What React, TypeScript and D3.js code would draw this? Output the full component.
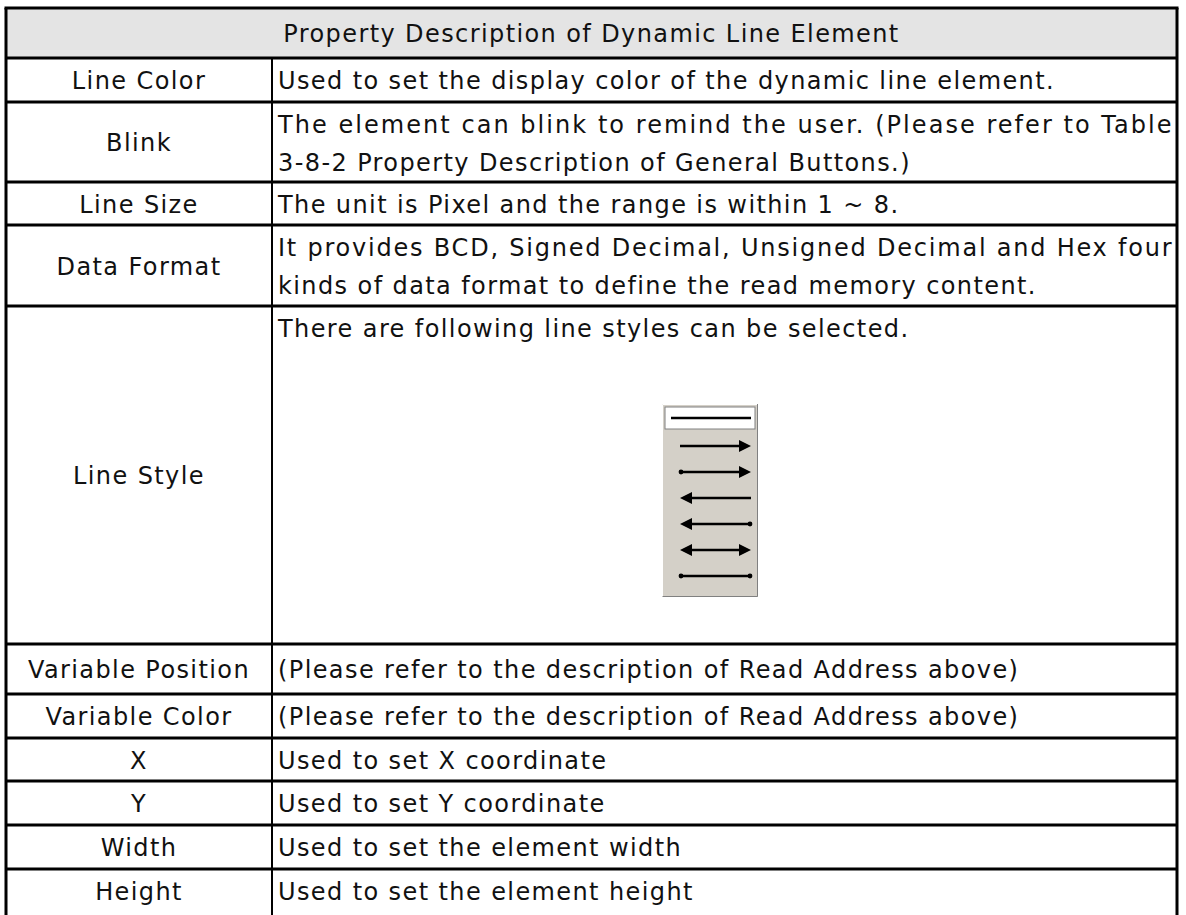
import React, { useEffect, useRef } from 'react';
import * as d3 from 'd3';

// table content
const title = 'Property Description of Dynamic Line Element';
const propertyNames = ['Line Color', 'Blink', 'Line Size', 'Data Format', 'Line Style',
  'Variable Position', 'Variable Color', 'X', 'Y', 'Width', 'Height'];
const propertyDescriptions = [
  ['Used to set the display color of the dynamic line element.'],
  ['The element can blink to remind the user. (Please refer to Table', '3-8-2 Property Description of General Buttons.)'],
  ['The unit is Pixel and the range is within 1 ~ 8.'],
  ['It provides BCD, Signed Decimal, Unsigned Decimal and Hex four', 'kinds of data format to define the read memory content.'],
  ['There are following line styles can be selected.'],
  ['(Please refer to the description of Read Address above)'],
  ['(Please refer to the description of Read Address above)'],
  ['Used to set X coordinate'],
  ['Used to set Y coordinate'],
  ['Used to set the element width'],
  ['Used to set the element height'],
];
// which description lines are justified to the full cell width
const justified = [[false], [true, false], [false], [true, false], [false], [false], [false], [false], [false], [false], [false]];
// line style options: [start cap, end cap]
const lineStyles: [string, string][] = [
  ['none', 'none'], ['none', 'arrow'], ['dot', 'arrow'], ['arrow', 'none'],
  ['arrow', 'dot'], ['arrow', 'arrow'], ['dot', 'dot'],
];

const W = 1186, H = 915;
const layout = {
  left: 6, right: 1177, top: 8, split: 272, headerH: 50,
  rowH: [44, 80, 43, 81, 338, 50, 44, 43, 44, 44, 44],
  font: '"DejaVu Sans", Verdana, sans-serif', fs: 24, ls: 1.4,
};

export default function App() {
  const svgRef = useRef<SVGSVGElement>(null);

  useEffect(() => {
    const svg = d3.select(svgRef.current);
    svg.selectAll('*').remove();
    const L = layout;
    const tops = [L.top + L.headerH, ...d3.cumsum(L.rowH).map(v => v + L.top + L.headerH)];

    const g = svg.append('g').attr('font-family', L.font).attr('font-size', L.fs)
      .attr('letter-spacing', L.ls).attr('fill', '#111');

    // header
    g.append('rect').attr('x', L.left).attr('y', L.top).attr('width', L.right - L.left)
      .attr('height', L.headerH).attr('fill', '#e4e4e4');
    g.append('text').attr('x', (L.left + L.right) / 2).attr('y', L.top + L.headerH / 2 + 9)
      .attr('text-anchor', 'middle').text(title);

    // names, centred in the left column
    g.selectAll('text.name').data(propertyNames).join('text')
      .attr('class', 'name')
      .attr('x', (L.left + L.split) / 2)
      .attr('y', (d, i) => (tops[i] + tops[i + 1]) / 2 + 9)
      .attr('text-anchor', 'middle')
      .text(d => d);

    // descriptions
    propertyDescriptions.forEach((lines, i) => {
      lines.forEach((t, j) => {
        const y = lines.length > 1 || i === 4
          ? tops[i] + 31 + j * 38
          : (tops[i] + tops[i + 1]) / 2 + 9;
        const txt = g.append('text').attr('x', L.split + 6).attr('y', y).text(t);
        if (justified[i][j]) txt.attr('textLength', L.right - L.split - 10).attr('lengthAdjust', 'spacing');
      });
    });

    // grid lines
    const grid = svg.append('g').attr('stroke', '#000').attr('stroke-width', 3).attr('fill', 'none');
    grid.append('line').attr('x1', L.left - 1.5).attr('x2', L.right + 1.5).attr('y1', L.top).attr('y2', L.top);
    grid.selectAll('line.h').data(tops.slice(0, -1)).join('line').attr('class', 'h')
      .attr('x1', L.left).attr('x2', L.right).attr('y1', d => d).attr('y2', d => d);
    grid.append('line').attr('x1', L.left).attr('x2', L.left).attr('y1', L.top).attr('y2', H);
    grid.append('line').attr('x1', L.right).attr('x2', L.right).attr('y1', L.top).attr('y2', H);
    grid.append('line').attr('x1', L.split).attr('x2', L.split).attr('y1', tops[0]).attr('y2', H)
      .attr('stroke-width', 2);

    // line style picker
    const px = 662, py = 404, pw = 96, ph = 193;
    const pick = svg.append('g');
    pick.append('rect').attr('x', px).attr('y', py).attr('width', pw).attr('height', ph).attr('fill', '#d4d0c8');
    pick.append('path').attr('d', `M${px + 0.5},${py + ph}V${py + 0.5}H${px + pw}`).attr('stroke', '#ffffff').attr('fill', 'none');
    pick.append('path').attr('d', `M${px + 0.5},${py + ph - 0.5}H${px + pw - 0.5}V${py}`).attr('stroke', '#808080').attr('fill', 'none');
    pick.append('rect').attr('x', px + 3).attr('y', py + 3).attr('width', pw - 6).attr('height', 22)
      .attr('fill', '#fff').attr('stroke', '#808080');
    const rowY = d3.scaleLinear().domain([1, 6]).range([py + 42, py + 172]);
    lineStyles.forEach(([s, e], i) => {
      const y = i === 0 ? py + 14 : rowY(i);
      const x0 = i === 0 ? px + 9 : px + 18, x1 = px + pw - 7;
      pick.append('line').attr('x1', s === 'arrow' ? x0 + 6 : x0).attr('x2', e === 'arrow' ? x1 - 6 : x1)
        .attr('y1', y).attr('y2', y).attr('stroke', '#000').attr('stroke-width', 2.4);
      if (s === 'arrow') pick.append('path').attr('d', `M${x0},${y}L${x0 + 12},${y - 6}L${x0 + 12},${y + 6}Z`).attr('fill', '#000');
      if (e === 'arrow') pick.append('path').attr('d', `M${x1},${y}L${x1 - 12},${y - 6}L${x1 - 12},${y + 6}Z`).attr('fill', '#000');
      if (s === 'dot') pick.append('circle').attr('cx', x0 + 1).attr('cy', y).attr('r', 2.4).attr('fill', '#000');
      if (e === 'dot') pick.append('circle').attr('cx', x1 - 1).attr('cy', y).attr('r', 2.4).attr('fill', '#000');
    });
  }, []);

  return (
    <svg ref={svgRef} width={W} height={H}
      style={{ position: 'absolute', left: 0, top: 0, background: '#fff' }} />
  );
}
